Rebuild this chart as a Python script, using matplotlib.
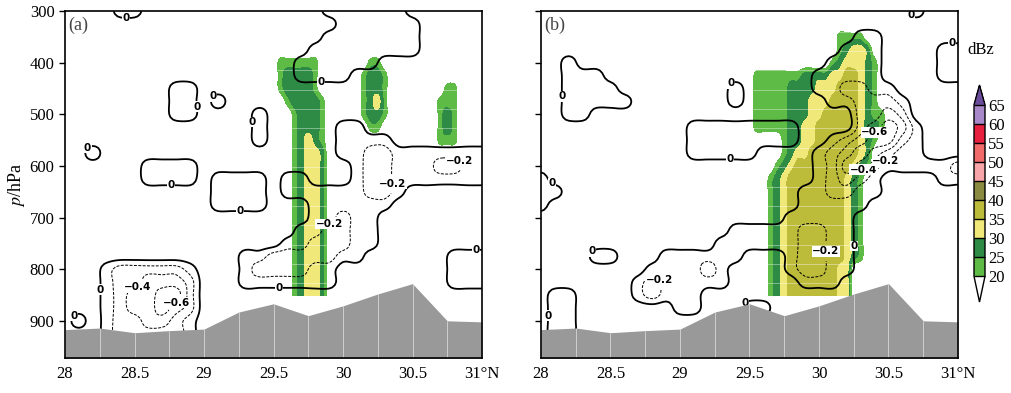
import numpy as np
import matplotlib.pyplot as plt
from matplotlib.colors import ListedColormap, BoundaryNorm
from matplotlib.cm import ScalarMappable

plt.rcParams['font.family'] = ['Liberation Serif', 'DejaVu Serif']
plt.rcParams['mathtext.fontset'] = 'stix'

# grids: w on 0.1 deg x 25 hPa, dBz on 0.05 deg x 25 hPa
lat_w = np.linspace(28, 31, 31)
p_w = np.arange(300, 951, 25)
lat_z = np.linspace(29.4, 30.9, 31)
p_z = np.arange(325, 851, 25)

# model levels (faint white lines inside the radar shading)
model_p = np.arange(340, 830, 37.5)

# terrain (hPa)
terrain_lat = [28, 28.25, 28.5, 28.75, 29, 29.25, 29.5, 29.75, 30, 30.25, 30.5, 30.75, 31]
terrain_p = [917, 914, 923, 919, 916, 883, 867, 890, 871, 848, 828, 900, 902]

# vertical velocity, one char per grid point
w_code = {'.': 0.1, '-': -0.1, 'a': -0.3, 'b': -0.5, 'c': -0.7}
w_a = [
    "....--.............------......",  # 300
    "....................------.....",  # 325
    "...................-------.....",  # 350
    "..................--------.....",  # 375
    ".................------........",  # 400
    ".................----..........",  # 425
    "........--.....................",  # 450
    "........--.-...................",  # 475
    "........--....-................",  # 500
    "..............-.....--.........",  # 525
    "..............-.....----.......",  # 550
    "..-.................--aa-------",  # 575
    "......----...........-aa---aa--",  # 600
    "......----.----.--...-aa-------",  # 625
    "...........----.------aa-......",  # 650
    "...........----...------.......",  # 675
    "..................--a--........",  # 700
    ".................--aa--........",  # 725
    "................--aaa--........",  # 750
    ".............--aaaaa--......---",  # 775
    "...-aaaaa-...-aaaa--........---",  # 800
    "...-aabbba...-------........---",  # 825
    "...-abbcca.....................",  # 850
    "...-abbcba.....................",  # 875
    ".-.-aabba-.....................",  # 900
    "...-aaaaa-.....................",  # 925
    "...-------.....................",  # 950
]
w_b = [
    "...........................-...",  # 300
    "...............................",  # 325
    ".......................--......",  # 350
    "......................---....--",  # 375
    "..-..................----....--",  # 400
    "..---...............-----....--",  # 425
    "..----........-.....--aa--.....",  # 450
    "..-----.......-......--aaa-....",  # 475
    "..--...................aaba....",  # 500
    "...........--------....abcb-...",  # 525
    "...........--------..-abcca-...",  # 550
    "...........-----....-abcba--...",  # 575
    "....................-acba-----a",  # 600
    "-...................-aba-....--",  # 625
    "--.................--aa--......",  # 650
    "-..................-----.......",  # 675
    "..................-----........",  # 700
    "..............-----aa--........",  # 725
    ".............------aa--........",  # 750
    "....--...------...-aa--........",  # 775
    "........----a-....-aa--........",  # 800
    ".......-a-----.....---.........",  # 825
    ".--....-a---...................",  # 850
    ".--.......--...--..............",  # 875
    ".--............................",  # 900
    ".--............................",  # 925
    "...............................",  # 950
]

# radar reflectivity (dBz), classes 20-25 .. 35-40
z_code = {'.': 15, '1': 22.5, '2': 27.5, '3': 32.5, '4': 37.5}
dbz_a = [
    "...............................",  # 325
    "...............................",  # 350
    "...............................",  # 375
    "...111111.......11.............",  # 400
    "...122221......1221............",  # 425
    "...122221......1221........11..",  # 450
    "....122221.....1231.......111..",  # 475
    ".....12221.....1221.......121..",  # 500
    ".....12221......11........121..",  # 525
    ".....12321................111..",  # 550
    ".....12332.....................",  # 575
    ".....12332.....................",  # 600
    ".....12332.....................",  # 625
    ".....12332.....................",  # 650
    ".....12332.....................",  # 675
    ".....12332.....................",  # 700
    ".....12332.....................",  # 725
    ".....12332.....................",  # 750
    ".....12332.....................",  # 775
    ".....12332.....................",  # 800
    ".....12332.....................",  # 825
    ".....12332.....................",  # 850
]
dbz_b = [
    "...............................",  # 325
    "...............1111............",  # 350
    "...............12332...........",  # 375
    "..............1233321..........",  # 400
    "...111111122223344321..........",  # 425
    "...111112222333444321..........",  # 450
    "...111112223334444321..........",  # 475
    "...1111122233444443211.........",  # 500
    "...1111122334444443221.........",  # 525
    ".......12233444444321..........",  # 550
    ".......1233444444432...........",  # 575
    "......12344444444321...........",  # 600
    ".....12344444444321............",  # 625
    ".....12344444444321............",  # 650
    ".....12344444444321............",  # 675
    ".....12344444444321............",  # 700
    ".....12344444444321............",  # 725
    ".....12344444444321............",  # 750
    ".....12344444444321............",  # 775
    ".....123444444433..............",  # 800
    ".....123444444433..............",  # 825
    ".....123444444433..............",  # 850
]

z_levels = [20, 25, 30, 35, 40, 45, 50, 55, 60, 65]
z_colors = ['#5dbb46', '#2e8b45', '#f0e878', '#bdbb3a', '#8a8a40',
            '#f7a5a8', '#f26b6b', '#e8203f', '#a888c8']
w_levels = [-0.6, -0.4, -0.2, 0]

cmap = ListedColormap(z_colors)
cmap.set_under('white')
cmap.set_over('#6b4c9a')
norm = BoundaryNorm(z_levels, cmap.N)


def decode(rows, code):
    return np.array([[code[c] for c in r] for r in rows])


def cr_matrix(n, k):
    # catmull-rom refinement matrix (passes through the grid values)
    m = (n - 1) * k + 1
    M = np.zeros((m, n))
    for j in range(m):
        pos = j / k
        i = min(int(pos), n - 2)
        u = pos - i
        wts = [0.5 * (-u + 2 * u**2 - u**3), 0.5 * (2 - 5 * u**2 + 3 * u**3),
               0.5 * (u + 4 * u**2 - 3 * u**3), 0.5 * (-u**2 + u**3)]
        for d, wt in zip(range(-1, 3), wts):
            M[j, min(max(i + d, 0), n - 1)] += wt
    return M


def refine(x, y, f, k):
    Mx = cr_matrix(len(x), k)
    My = cr_matrix(len(y), k)
    return (np.linspace(x[0], x[-1], Mx.shape[0]),
            np.linspace(y[0], y[-1], My.shape[0]), My @ f @ Mx.T)


def fmt(v):
    return f'{v:g}'.replace('-', '\u2212')


def draw_panel(ax, w_rows, z_rows, tag, ylabels):
    xz, yz, z = refine(lat_z, p_z, decode(z_rows, z_code), 4)
    xw, yw, w = refine(lat_w, p_w, decode(w_rows, w_code), 5)
    ax.contourf(xz, yz, z, levels=z_levels, cmap=cmap, norm=norm, zorder=1)
    ax.hlines(model_p, 28, 31, color='white', lw=0.6, alpha=0.45, zorder=1.5)
    cs = ax.contour(xw, yw, w, levels=w_levels, colors='k',
                    linewidths=[0.7, 0.7, 0.7, 1.3],
                    linestyles=[(0, (3, 1.5))] * 3 + ['solid'], zorder=2)
    txts = ax.clabel(cs, fmt=fmt, fontsize=7.5, inline=True, inline_spacing=1)
    for t in txts:
        t.set_family('DejaVu Sans')
        t.set_weight('bold')
        t.set_rotation(0)
        t.set_zorder(2.2)
        t.set_bbox(dict(facecolor='white', edgecolor='none', pad=0.3))
    # terrain
    ax.fill_between(terrain_lat, terrain_p, 1000, color='#999999', lw=0, zorder=3)
    ax.vlines(terrain_lat[1:-1], terrain_p[1:-1], 1000, color='white', lw=0.6,
              alpha=0.6, zorder=3.1)
    ax.set_xlim(28, 31)
    ax.set_ylim(972, 300)
    ax.set_xticks([28, 28.5, 29, 29.5, 30, 30.5, 31])
    ax.set_xticklabels(['28', '28.5', '29', '29.5', '30', '30.5', '31°N'], fontsize=12)
    ax.set_yticks([300, 400, 500, 600, 700, 800, 900])
    if ylabels:
        ax.set_yticklabels(['300', '400', '500', '600', '700', '800', '900'], fontsize=12)
        ax.set_ylabel('$p$/hPa', fontsize=13, labelpad=2)
    else:
        ax.set_yticklabels([])
    ax.tick_params(axis='x', length=0, pad=6)
    ax.tick_params(axis='y', direction='out', length=4, width=1)
    for s in ax.spines.values():
        s.set_linewidth(1.2)
        s.set_zorder(5)
    ax.text(0.008, 0.985, tag, transform=ax.transAxes, ha='left', va='top',
            fontsize=13, color='#444444', zorder=6)


fig = plt.figure(figsize=(10.11, 3.93), dpi=100)
ax1 = fig.add_axes([65 / 1011, 1 - 358 / 393, 417 / 1011, 347 / 393])
ax2 = fig.add_axes([541 / 1011, 1 - 358 / 393, 417 / 1011, 347 / 393])
draw_panel(ax1, w_a, dbz_a, '(a)', True)
draw_panel(ax2, w_b, dbz_b, '(b)', False)

# colorbar
cax = fig.add_axes([974 / 1011, 1 - 302 / 393, 11 / 1011, 217 / 393])
sm = ScalarMappable(norm=norm, cmap=cmap)
cb = fig.colorbar(sm, cax=cax, extend='both', extendfrac=[0.15, 0.115],
                  drawedges=True, ticks=z_levels)
cb.outline.set_linewidth(1.0)
cb.dividers.set_linewidth(1.0)
cb.ax.tick_params(length=0, labelsize=12, pad=2)
fig.text(981 / 1011, 1 - 50 / 393, 'dBz', ha='center', va='center', fontsize=12)

plt.savefig('out.png', dpi=100)
